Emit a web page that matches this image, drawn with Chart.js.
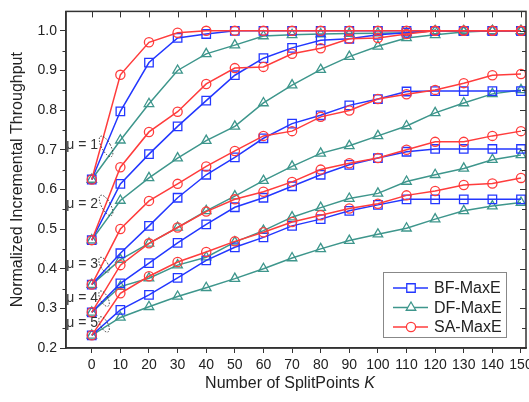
<!DOCTYPE html>
<html>
<head>
<meta charset="utf-8">
<script src="https://cdn.jsdelivr.net/npm/chart.js@4.4.0/dist/chart.umd.min.js"></script>
<style>
  html, body { margin: 0; padding: 0; background: #fff; overflow: hidden; }
  #wrap { width: 540px; height: 402px; }
</style>
</head>
<body>
<div id="wrap"><canvas id="mycanvas"></canvas></div>
<script>
// split points K
var kValues = [0, 10, 20, 30, 40, 50, 60, 70, 80, 90, 100, 110, 120, 130, 140, 150];
var xTicks = [0, 10, 20, 30, 40, 50, 60, 70, 80, 90, 100, 110, 120, 130, 140, 150];
var yTicks = [0.2, 0.3, 0.4, 0.5, 0.6, 0.7, 0.8, 0.9, 1.0];

// mu = 1
var bf1 = [0.625, 0.797, 0.920, 0.982, 0.992, 1.0, 1.0, 1.0, 1.0, 1.0, 1.0, 1.0, 1.0, 1.0, 1.0, 1.0];
var df1 = [0.625, 0.724, 0.816, 0.900, 0.942, 0.964, 0.987, 0.990, 0.992, 0.993, 0.994, 0.995, 1.0, 1.0, 1.0, 1.0];
var sa1 = [0.625, 0.889, 0.971, 0.995, 1.0, 1.0, 1.0, 1.0, 1.0, 1.0, 1.0, 1.0, 1.0, 1.0, 1.0, 1.0];
// mu = 2
var bf2 = [0.472, 0.614, 0.689, 0.759, 0.824, 0.888, 0.931, 0.957, 0.976, 0.980, 0.990, 0.995, 1.0, 1.0, 1.0, 1.0];
var df2 = [0.472, 0.572, 0.629, 0.679, 0.723, 0.759, 0.818, 0.863, 0.902, 0.935, 0.961, 0.982, 0.990, 0.997, 1.0, 1.0];
var sa2 = [0.472, 0.656, 0.745, 0.796, 0.866, 0.906, 0.909, 0.942, 0.956, 0.980, 0.982, 0.992, 1.0, 1.0, 1.0, 1.0];
// mu = 3
var bf3 = [0.360, 0.439, 0.508, 0.579, 0.637, 0.681, 0.729, 0.766, 0.787, 0.812, 0.828, 0.847, 0.848, 0.848, 0.848, 0.848];
var df3 = [0.360, 0.423, 0.464, 0.504, 0.546, 0.583, 0.622, 0.658, 0.691, 0.710, 0.735, 0.760, 0.793, 0.818, 0.841, 0.851];
var sa3 = [0.360, 0.500, 0.571, 0.614, 0.658, 0.697, 0.735, 0.747, 0.783, 0.799, 0.828, 0.840, 0.851, 0.868, 0.888, 0.891];
// mu = 4
var bf4 = [0.290, 0.363, 0.414, 0.465, 0.512, 0.555, 0.579, 0.608, 0.637, 0.662, 0.679, 0.695, 0.702, 0.702, 0.702, 0.702];
var df4 = [0.290, 0.355, 0.376, 0.409, 0.429, 0.467, 0.496, 0.530, 0.554, 0.577, 0.590, 0.620, 0.637, 0.653, 0.675, 0.687];
var sa4 = [0.290, 0.409, 0.464, 0.504, 0.544, 0.575, 0.594, 0.619, 0.650, 0.666, 0.679, 0.700, 0.720, 0.720, 0.735, 0.747];
// mu = 5
var bf5 = [0.232, 0.296, 0.334, 0.377, 0.421, 0.454, 0.479, 0.508, 0.525, 0.546, 0.561, 0.575, 0.575, 0.575, 0.575, 0.575];
var df5 = [0.232, 0.277, 0.304, 0.330, 0.352, 0.375, 0.400, 0.427, 0.450, 0.471, 0.487, 0.502, 0.525, 0.546, 0.558, 0.567];
var sa5 = [0.232, 0.338, 0.381, 0.417, 0.442, 0.469, 0.492, 0.518, 0.535, 0.552, 0.564, 0.585, 0.596, 0.611, 0.615, 0.629];

var muLabels = ["\u03bc = 1", "\u03bc = 2", "\u03bc = 3", "\u03bc = 4", "\u03bc = 5"];
var muLabelY = [0.711, 0.562, 0.412, 0.327, 0.262];

var FONT = "'Liberation Sans', Arial, sans-serif";
var TEXT = "#222";

var methods = [
  { label: "BF-MaxE", color: "rgb(35, 55, 255)", style: "rect", radius: 6, order: 1, series: [bf1, bf2, bf3, bf4, bf5] },
  { label: "DF-MaxE", color: "rgb(62, 150, 140)", style: "triangle", radius: 5.5, order: 2, series: [df1, df2, df3, df4, df5] },
  { label: "SA-MaxE", color: "rgb(255, 60, 60)", style: "circle", radius: 4.6, order: 0, series: [sa1, sa2, sa3, sa4, sa5] }
];

var datasets = [];
methods.forEach(function(m) {
  m.series.forEach(function(vals, j) {
    datasets.push({
      label: m.label + " mu=" + (j + 1),
      data: vals.map(function(v, i) { return { x: kValues[i], y: v }; }),
      borderColor: m.color,
      backgroundColor: "rgba(0,0,0,0)",
      borderWidth: 1.5,
      pointStyle: m.style,
      pointRadius: m.radius,
      pointBorderWidth: 1.3,
      pointBorderColor: m.color,
      pointBackgroundColor: "rgba(0,0,0,0)",
      tension: 0,
      order: m.order
    });
  });
});

var decor = {
  id: "decor",
  afterDraw: function(chart) {
    var ctx = chart.ctx;
    var a = chart.chartArea;
    var xs = chart.scales.x, ys = chart.scales.y;
    ctx.save();

    // frame
    ctx.strokeStyle = "#333";
    ctx.lineWidth = 1.5;
    ctx.strokeRect(a.left, a.top, a.right - a.left, a.bottom - a.top);

    // top ticks (inward) and right / left minor ticks
    ctx.lineWidth = 1;
    ctx.beginPath();
    xTicks.forEach(function(v) {
      var px = Math.round(xs.getPixelForValue(v)) + 0.5;
      ctx.moveTo(px, a.top);
      ctx.lineTo(px, a.top + 6);
    });
    for (var t = 0.2; t <= 1.0001; t += 0.05) {
      var py = Math.round(ys.getPixelForValue(t)) + 0.5;
      var major = Math.abs(t * 10 - Math.round(t * 10)) < 0.01;
      ctx.moveTo(a.right, py);
      ctx.lineTo(a.right - (major ? 6 : 4), py);
      if (!major) {
        ctx.moveTo(a.left, py);
        ctx.lineTo(a.left - 3.5, py);
      }
    }
    ctx.stroke();

    // mu labels with dashed ellipses
    ctx.font = "14px " + FONT;
    ctx.fillStyle = "#333";
    ctx.textAlign = "right";
    ctx.textBaseline = "middle";
    muLabels.forEach(function(txt, i) {
      var py = ys.getPixelForValue(muLabelY[i]);
      var px = xs.getPixelForValue(2.2);
      ctx.fillText(txt, px, py);
      ctx.save();
      ctx.setLineDash([1.5, 1.5]);
      ctx.strokeStyle = "#333";
      ctx.lineWidth = 1;
      ctx.beginPath();
      var big = i < 2;
      ctx.ellipse(xs.getPixelForValue(big ? 5.0 : 4.3), py + (big ? 1 : 1), big ? 4.5 : 3.8, big ? 11.5 : 8.5, -0.5, 0, Math.PI * 2);
      ctx.stroke();
      ctx.restore();
    });

    // axis titles
    ctx.fillStyle = TEXT;
    ctx.textAlign = "left";
    ctx.textBaseline = "middle";
    var part1 = "Number of SplitPoints ";
    ctx.font = "16px " + FONT;
    var w1 = ctx.measureText(part1).width;
    ctx.font = "italic 16px " + FONT;
    var w2 = ctx.measureText("K").width;
    var x0 = 290 - (w1 + w2) / 2;
    ctx.font = "16px " + FONT;
    ctx.fillText(part1, x0, 384);
    ctx.font = "italic 16px " + FONT;
    ctx.fillText("K", x0 + w1, 384);

    ctx.save();
    ctx.translate(18, (a.top + a.bottom) / 2);
    ctx.rotate(-Math.PI / 2);
    ctx.textAlign = "center";
    ctx.font = "16px " + FONT;
    ctx.fillText("Normalized Incremental Throughput", 0, 0);
    ctx.restore();

    // legend
    ctx.fillStyle = "#fff";
    ctx.fillRect(383, 272, 123, 65);
    ctx.strokeStyle = "#888";
    ctx.lineWidth = 1;
    ctx.strokeRect(383.5, 272.5, 123, 65);
    ctx.font = "16px " + FONT;
    ctx.textAlign = "left";
    methods.forEach(function(m, i) {
      var ly = 288 + i * 19.5;
      ctx.strokeStyle = m.color;
      ctx.lineWidth = 1.5;
      ctx.beginPath();
      ctx.moveTo(393, ly);
      ctx.lineTo(428, ly);
      ctx.stroke();
      ctx.lineWidth = 1.3;
      ctx.fillStyle = "#fff";
      Chart.helpers.drawPoint(ctx, { pointStyle: m.style, radius: m.radius, rotation: 0, borderWidth: 1.3 }, 411, ly);
      ctx.fillStyle = TEXT;
      ctx.fillText(m.label, 434, ly + 1);
    });

    ctx.restore();
  }
};

var ctx = document.getElementById("mycanvas");

var LineGraph = new Chart(ctx, {
  type: "line",
  data: { datasets: datasets },
  options: {
    responsive: true,
    maintainAspectRatio: false,
    animation: false,
    layout: { padding: { top: 7, right: 14, left: 0, bottom: 0 } },
    plugins: { legend: { display: false }, tooltip: { enabled: false } },
    scales: {
      x: {
        type: "linear",
        min: -9,
        max: 151.75,
        afterBuildTicks: function(s) { s.ticks = xTicks.map(function(v) { return { value: v }; }); },
        afterFit: function(s) { s.height = 54; },
        ticks: { font: { size: 14, family: FONT }, color: TEXT, padding: 4, maxRotation: 0, autoSkip: false },
        grid: { drawOnChartArea: false, tickLength: 5, color: "#333" },
        border: { color: "#333", width: 1.5 }
      },
      y: {
        min: 0.2,
        max: 1.049,
        afterBuildTicks: function(s) { s.ticks = yTicks.map(function(v) { return { value: v }; }); },
        afterFit: function(s) { s.width = 66; },
        ticks: {
          font: { size: 14, family: FONT }, color: TEXT, padding: 3,
          callback: function(v) { return Number(v).toFixed(1); }
        },
        grid: { drawOnChartArea: false, tickLength: 6, color: "#333" },
        border: { color: "#333", width: 1.5 }
      }
    }
  },
  plugins: [decor]
});
</script>
</body>
</html>
